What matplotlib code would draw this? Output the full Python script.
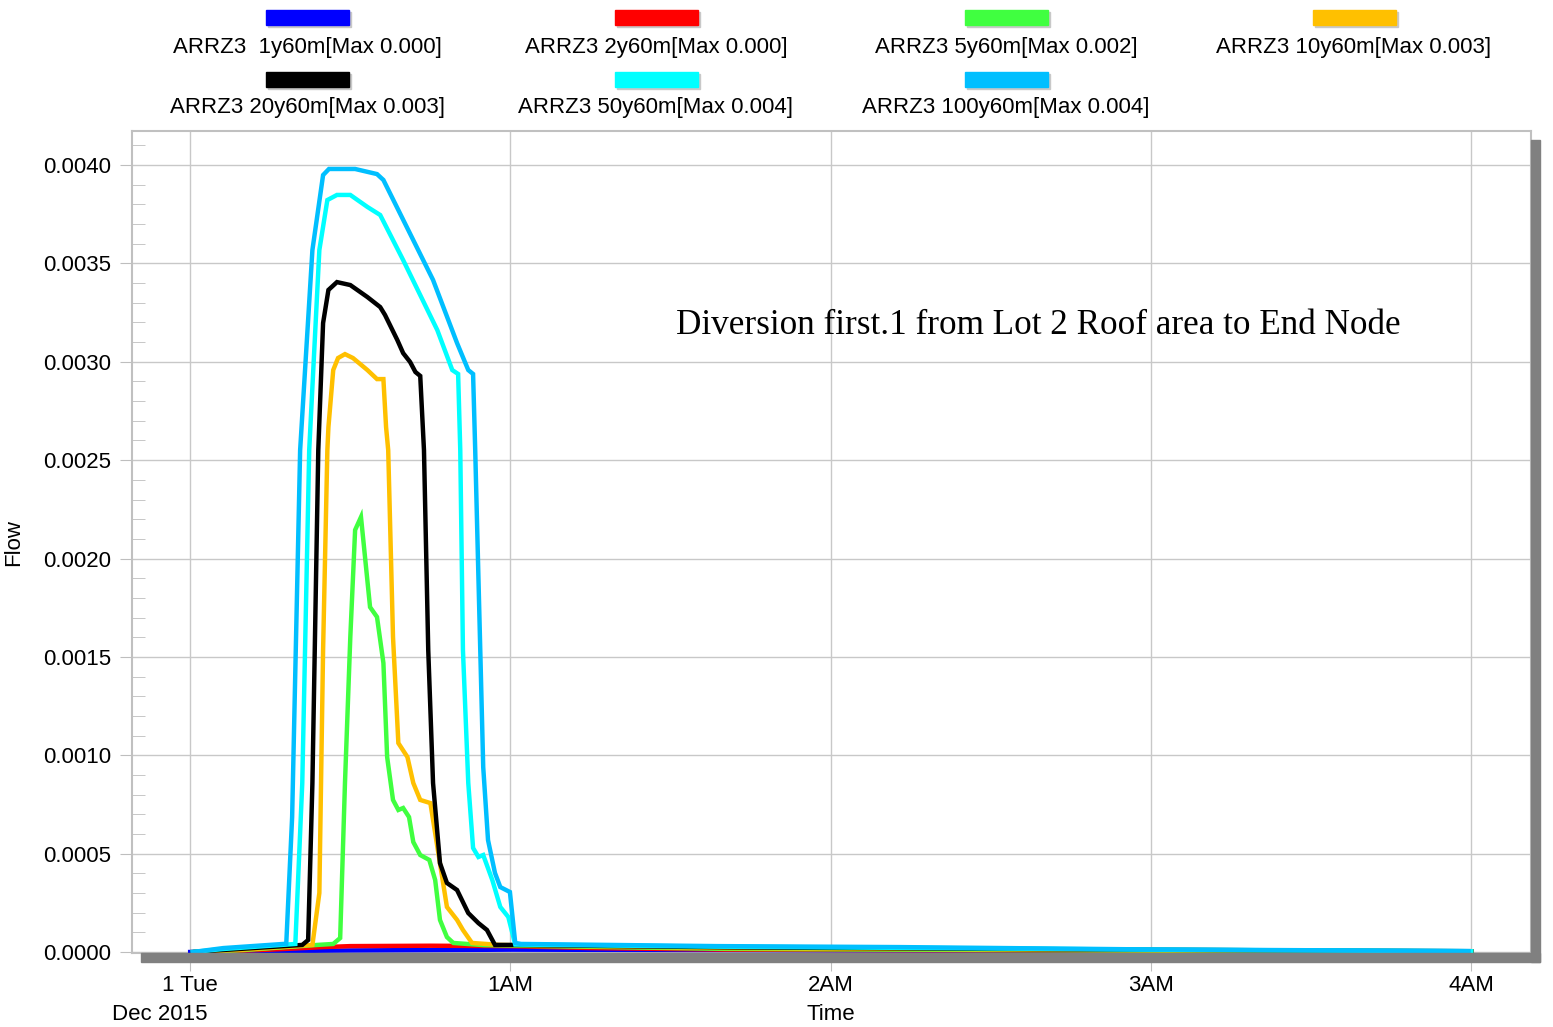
import matplotlib
matplotlib.use("Agg")
import matplotlib.pyplot as plt
from matplotlib.patches import Rectangle
from matplotlib.ticker import MultipleLocator, FormatStrFormatter

plt.rcParams['font.family'] = ['Liberation Sans', 'DejaVu Sans']

# time in minutes after midnight, flow values in units of 0.001
t_1y = [0, 10, 30, 60, 100, 150, 200, 240]
q_1y = [0, 0.003, 0.008, 0.012, 0.010, 0.007, 0.004, 0.002]

t_2y = [1, 5, 15, 25, 30, 45, 60, 75, 100, 150, 200, 240]
q_2y = [0, 0.002, 0.012, 0.025, 0.030, 0.032, 0.030, 0.020, 0.012, 0.008, 0.005, 0.002]

t_5y = [1, 10, 23.8, 26.8, 28.1, 29.0, 30.0, 30.9, 32.0, 33.7, 35.0, 36.2, 36.9, 38.0,
        39.0, 39.9, 41.0, 41.8, 43.1, 44.8, 45.9, 46.8, 48.1, 49.3, 55, 100, 150, 200, 240]
q_5y = [0, 0.010, 0.036, 0.041, 0.071, 0.859, 1.601, 2.145, 2.211, 1.753, 1.703, 1.469,
        0.991, 0.773, 0.722, 0.732, 0.686, 0.559, 0.493, 0.468, 0.366, 0.163, 0.076,
        0.046, 0.035, 0.016, 0.010, 0.006, 0.002]

t_10y = [1, 10, 22.9, 24.2, 24.9, 25.7, 25.9, 26.8, 27.7, 29.0, 30.5, 33.2, 35.0, 36.2,
         36.7, 37.1, 38.0, 39.0, 40.7, 41.8, 43.1, 45.0, 48.1, 50.0, 51.1, 52.8, 58.1,
         100, 150, 200, 240]
q_10y = [0, 0.012, 0.036, 0.300, 1.535, 2.551, 2.668, 2.958, 3.019, 3.039, 3.019, 2.958,
         2.912, 2.912, 2.668, 2.551, 1.601, 1.062, 0.991, 0.859, 0.773, 0.757, 0.229,
         0.163, 0.112, 0.046, 0.036, 0.020, 0.013, 0.007, 0.003]

t_20y = [0.5, 6, 21.0, 22.1, 22.9, 24.0, 24.9, 25.9, 27.5, 30.0, 33.2, 35.6, 36.5, 38.8,
         39.9, 41.2, 42.2, 43.1, 43.8, 44.6, 45.5, 46.8, 48.1, 50.0, 52.1, 54.0, 55.6,
         57.1, 60.5, 100, 150, 200, 240]
q_20y = [0, 0.010, 0.036, 0.061, 0.859, 2.551, 3.197, 3.365, 3.405, 3.390, 3.329, 3.278,
         3.238, 3.111, 3.044, 2.999, 2.948, 2.928, 2.551, 1.535, 0.859, 0.452, 0.351,
         0.315, 0.198, 0.147, 0.112, 0.036, 0.036, 0.024, 0.016, 0.009, 0.004]

t_50y = [0.5, 6, 19.7, 21.0, 22.3, 24.2, 25.7, 27.5, 30.0, 33.2, 35.6, 39.9, 46.3, 49.1,
         50.2, 50.6, 51.1, 52.1, 53.0, 54.0, 54.9, 56.6, 58.1, 59.6, 60.9, 100, 140, 180, 240]
q_50y = [0, 0.015, 0.041, 0.859, 2.551, 3.568, 3.822, 3.848, 3.848, 3.787, 3.746, 3.517,
         3.161, 2.958, 2.938, 2.551, 1.535, 0.859, 0.529, 0.483, 0.493, 0.366, 0.229,
         0.178, 0.038, 0.027, 0.020, 0.012, 0.004]

t_100y = [0.5, 6.2, 18.0, 19.1, 20.6, 22.9, 24.9, 26.0, 30.9, 35.0, 36.2, 45.5, 50.0, 52.1,
          53.0, 53.4, 54.9, 55.8, 57.1, 58.1, 59.9, 60.9, 62, 98.7, 133, 180, 239.5]
q_100y = [0, 0.020, 0.042, 0.686, 2.551, 3.568, 3.949, 3.980, 3.980, 3.954, 3.924, 3.416,
          3.095, 2.958, 2.938, 2.551, 0.940, 0.569, 0.402, 0.330, 0.305, 0.046, 0.041,
          0.030, 0.025, 0.013, 0.005]

labels = ["ARRZ3  1y60m[Max 0.000]", "ARRZ3 2y60m[Max 0.000]", "ARRZ3 5y60m[Max 0.002]",
          "ARRZ3 10y60m[Max 0.003]", "ARRZ3 20y60m[Max 0.003]", "ARRZ3 50y60m[Max 0.004]",
          "ARRZ3 100y60m[Max 0.004]"]
colors = ["#0000FF", "#FF0000", "#40FF40", "#FFC000", "#000000", "#00FFFF", "#00BFFF"]
series = [(t_1y, q_1y), (t_2y, q_2y), (t_5y, q_5y), (t_10y, q_10y),
          (t_20y, q_20y), (t_50y, q_50y), (t_100y, q_100y)]

tick_pos = [0, 60, 120, 180, 240]
tick_lab = ["1 Tue", "1AM", "2AM", "3AM", "4AM"]

W, H = 1553, 1027
fig = plt.figure(figsize=(W / 100, H / 100), dpi=100)

def fx(px):
    return px / W

def fy(py):
    return 1 - py / H

# axes box: x 132..1531, y 131..953
ax = fig.add_axes([fx(132), fy(953), fx(1531) - fx(132), fy(131) - fy(953)])

# grey drop shadow
fig.patches.append(Rectangle((fx(1531), fy(962)), fx(9), fy(140) - fy(962),
                             transform=fig.transFigure, color="#808080", zorder=0))
fig.patches.append(Rectangle((fx(141), fy(962)), fx(1540) - fx(141), fy(953) - fy(962),
                             transform=fig.transFigure, color="#808080", zorder=0))

for (t, q), c in zip(series, colors):
    ax.plot(t, [v / 1000 for v in q], color=c, lw=3.2, solid_joinstyle="miter", zorder=3)

ax.set_xlim(-10.9, 251.2)
ax.set_ylim(-0.000005, 0.004173)

ax.set_xticks(tick_pos)
ax.set_xticklabels(tick_lab, fontsize=16)
ax.yaxis.set_major_locator(MultipleLocator(0.0005))
ax.yaxis.set_minor_locator(MultipleLocator(0.0001))
ax.yaxis.set_major_formatter(FormatStrFormatter("%.4f"))
ax.tick_params(axis="y", which="major", length=9, color="#BEBEBE", labelsize=16, pad=6)
ax.tick_params(axis="y", which="minor", direction="in", length=9, color="#BEBEBE")
ax.tick_params(axis="x", which="major", length=13, color="#BEBEBE", labelsize=16, pad=3)
ax.grid(True, which="major", color="#C8C8C8", lw=1)
for s in ax.spines.values():
    s.set_color("#C0C0C0")
    s.set_linewidth(1.5)

fig.text(fx(160), fy(1014), "Dec 2015", fontsize=16, ha="center", va="center")
fig.text(fx(831), fy(1014), "Time", fontsize=16, ha="center", va="center")
fig.text(fx(14), fy(543), "Flow", fontsize=16, ha="center", va="center", rotation=90)

ax.text((1038 - 132) / 1399, 0.763, "Diversion first.1 from Lot 2 Roof area to End Node",
        transform=ax.transAxes, fontsize=25.3, family="Liberation Serif",
        ha="center", va="center")

# legend drawn in figure pixels
col_x = [307, 656, 1006, 1354]
rows = [(17, 47), (79, 108)]
for i, (lab, c) in enumerate(zip(labels, colors)):
    r, k = divmod(i, 4)
    cx = col_x[k]
    py, ty = rows[r]
    fig.patches.append(Rectangle((fx(cx - 39), fy(py + 10)), fx(83), fy(0) - fy(15),
                                 transform=fig.transFigure, color="#C8C8C8", zorder=1))
    fig.patches.append(Rectangle((fx(cx - 41), fy(py + 8)), fx(83), fy(0) - fy(15),
                                 transform=fig.transFigure, color=c, zorder=2))
    fig.text(fx(cx), fy(ty), lab, fontsize=16, ha="center", va="center")

fig.savefig("out.png", dpi=100)
